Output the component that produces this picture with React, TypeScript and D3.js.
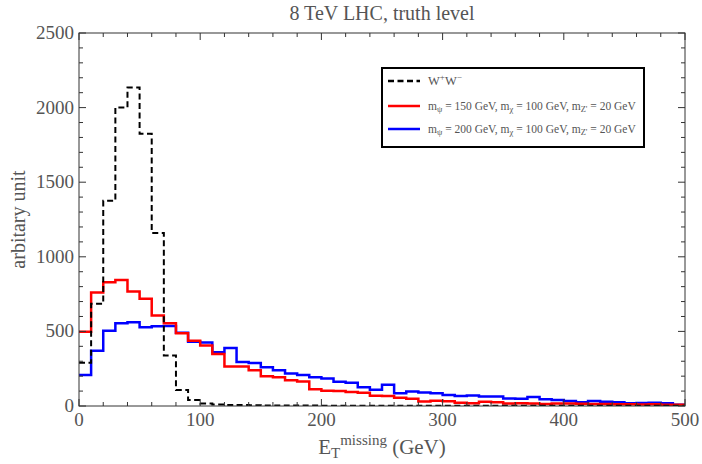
import React from "react";
import * as d3 from "d3";

// histogram bins of 10 GeV, 0..500
const binStarts = d3.range(0, 500, 10);

// W+W- background (dashed black)
const wwValues = [
  290, 685, 1375, 2000, 2135, 1825, 1160, 338, 108, 40,
  16, 10, 7, 6, 5, 4, 4, 3, 3, 3,
  2, 2, 2, 2, 2, 1, 1, 1, 1, 1,
  1, 1, 1, 1, 1, 1, 1, 1, 1, 1,
  1, 1, 1, 1, 1, 1, 1, 1, 1, 1,
];

// m_psi = 150 GeV (red)
const psi150Values = [
  497, 760, 830, 845, 767, 718, 606, 555, 488, 438,
  405, 348, 264, 264, 240, 200, 192, 172, 165, 112,
  103, 100, 94, 89, 69, 67, 56, 49, 31, 35,
  32, 22, 18, 29, 25, 16, 18, 16, 14, 16,
  16, 15, 14, 14, 12, 12, 10, 11, 9, 8,
];

// m_psi = 200 GeV (blue)
const psi200Values = [
  208, 371, 505, 554, 561, 527, 534, 536, 491, 430,
  425, 360, 388, 295, 288, 260, 240, 218, 208, 193,
  185, 163, 155, 125, 109, 143, 85, 97, 90, 86,
  74, 67, 70, 63, 63, 50, 48, 60, 45, 40,
  33, 25, 33, 29, 25, 18, 20, 22, 18, 9,
];

const xTicks = [0, 100, 200, 300, 400, 500];
const yTicks = [0, 500, 1000, 1500, 2000, 2500];

const width = 702;
const height = 464;
const margin = { top: 33, right: 17, bottom: 58, left: 79 };

const labelColor = "#555";
const font = "'Liberation Serif', 'DejaVu Serif', serif";

export default function App() {
  const x = d3.scaleLinear().domain([0, 500]).range([margin.left, width - margin.right]);
  const y = d3.scaleLinear().domain([0, 2500]).range([height - margin.bottom, margin.top]);

  const step = d3
    .line<[number, number]>()
    .x((d) => x(d[0]))
    .y((d) => y(d[1]))
    .curve(d3.curveStepAfter);

  const points = (vals: number[]): [number, number][] => [
    ...binStarts.map((b, i) => [b, vals[i]] as [number, number]),
    [500, vals[vals.length - 1]],
  ];

  const x0 = x(0), x1 = x(500), y0 = y(0), y1 = y(2500);
  const xMinor = x.ticks(25);
  const yMinor = y.ticks(25);

  // legend
  const lg = { x: 382, y: 68, w: 262, h: 79 };
  const rows = [lg.y + 13, lg.y + 38, lg.y + 61];

  return (
    <svg
      width={width}
      height={height}
      style={{ position: "absolute", left: 0, top: 0, background: "#fff" }}
      fontFamily={font}
    >
      <defs>
        <clipPath id="plot">
          <rect x={x0} y={y1} width={x1 - x0} height={y0 - y1} />
        </clipPath>
      </defs>

      {/* title */}
      <text x={(x0 + x1) / 2} y={20} textAnchor="middle" fontSize={20} fill={labelColor}>
        8 TeV LHC, truth level
      </text>

      {/* histograms */}
      <g clipPath="url(#plot)" fill="none">
        <path d={step(points(psi200Values)) || ""} stroke="#0000ff" strokeWidth={2.5} />
        <path d={step(points(psi150Values)) || ""} stroke="#ff0000" strokeWidth={2.5} />
        <path d={step(points(wwValues)) || ""} stroke="#000" strokeWidth={2} strokeDasharray="6,3.5" />
      </g>

      {/* frame */}
      <rect x={x0} y={y1} width={x1 - x0} height={y0 - y1} fill="none" stroke="#333" strokeWidth={1} />

      {/* ticks on all four sides */}
      <g stroke="#333" strokeWidth={1}>
        {xMinor.map((t) => {
          const len = t % 100 === 0 ? 7 : 4;
          return (
            <g key={"xt" + t}>
              <line x1={x(t)} x2={x(t)} y1={y0} y2={y0 - len} />
              <line x1={x(t)} x2={x(t)} y1={y1} y2={y1 + len} />
            </g>
          );
        })}
        {yMinor.map((t) => {
          const len = t % 500 === 0 ? 7 : 4;
          return (
            <g key={"yt" + t}>
              <line x1={x0} x2={x0 + len} y1={y(t)} y2={y(t)} />
              <line x1={x1} x2={x1 - len} y1={y(t)} y2={y(t)} />
            </g>
          );
        })}
      </g>

      {/* tick labels */}
      <g fill={labelColor} fontSize={19}>
        {xTicks.map((t) => (
          <text key={"xl" + t} x={x(t)} y={y0 + 20} textAnchor="middle">
            {t}
          </text>
        ))}
        {yTicks.map((t) => (
          <text key={"yl" + t} x={x0 - 5} y={y(t) + 6} textAnchor="end">
            {t}
          </text>
        ))}
      </g>

      {/* axis labels */}
      <text x={(x0 + x1) / 2} y={454} textAnchor="middle" fontSize={21} fill={labelColor}>
        E<tspan fontSize={15} dy={4}>T</tspan>
        <tspan fontSize={15} dy={-13}>missing</tspan>
        <tspan dy={9}> (GeV)</tspan>
      </text>
      <text
        transform={`translate(25,${(y0 + y1) / 2}) rotate(-90)`}
        textAnchor="middle"
        fontSize={20}
        fill={labelColor}
      >
        arbitary unit
      </text>

      {/* legend */}
      <rect x={lg.x} y={lg.y} width={lg.w} height={lg.h} fill="#fff" stroke="#000" strokeWidth={2} />
      <line x1={lg.x + 6} x2={lg.x + 38} y1={rows[0]} y2={rows[0]} stroke="#000" strokeWidth={2.5} strokeDasharray="6,3.5" />
      <line x1={lg.x + 6} x2={lg.x + 38} y1={rows[1]} y2={rows[1]} stroke="#ff0000" strokeWidth={2.5} />
      <line x1={lg.x + 6} x2={lg.x + 38} y1={rows[2]} y2={rows[2]} stroke="#0000ff" strokeWidth={2.5} />
      <g fill={labelColor} fontSize={11.5}>
        <text x={lg.x + 46} y={rows[0] + 4} fontSize={12.5}>
          W<tspan fontSize={9} dy={-5}>+</tspan>
          <tspan dy={5}>W</tspan>
          <tspan fontSize={9} dy={-5}>−</tspan>
        </text>
        {["150", "200"].map((m, i) => (
          <text key={m} x={lg.x + 46} y={rows[i + 1] + 4}>
            m<tspan fontSize={8.5} dy={2}>ψ</tspan>
            <tspan dy={-2}>{` = ${m} GeV, m`}</tspan>
            <tspan fontSize={8.5} dy={2}>χ</tspan>
            <tspan dy={-2}> = 100 GeV, m</tspan>
            <tspan fontSize={8.5} dy={2}>Z'</tspan>
            <tspan dy={-2}> = 20 GeV</tspan>
          </text>
        ))}
      </g>
    </svg>
  );
}
